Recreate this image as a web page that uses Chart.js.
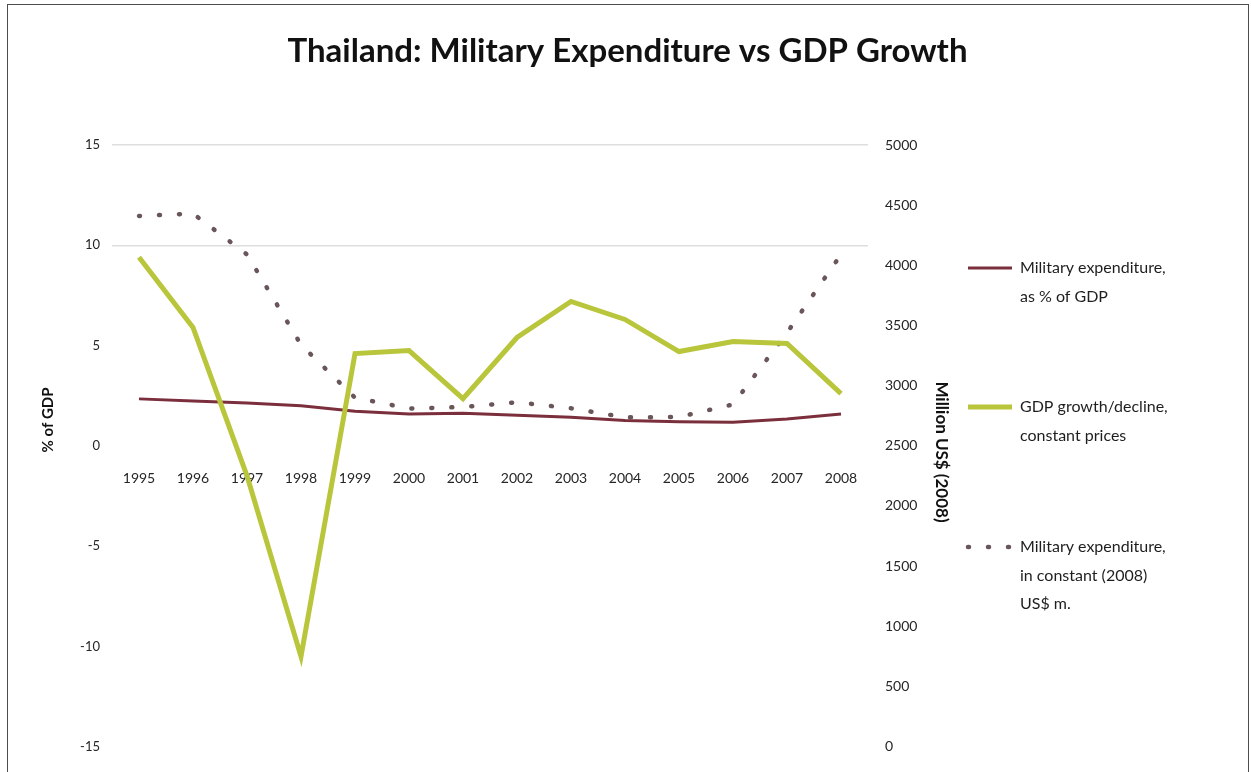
<!DOCTYPE html>
<html>
<head>
<meta charset="utf-8">
<title>Thailand: Military Expenditure vs GDP Growth</title>
<script src="https://cdn.jsdelivr.net/npm/chart.js@4.4.1/dist/chart.umd.min.js"></script>
<style>
  html, body { margin: 0; padding: 0; background: #fff; }
  #wrap { position: relative; width: 1251px; height: 772px; overflow: hidden; }
  #frame {
    position: absolute; left: 7px; top: 4px; width: 1240px; height: 820px;
    border: 1px solid #4d4d4d; pointer-events: none;
  }
</style>
</head>
<body>
<div id="wrap">
  <canvas id="chart" width="1251" height="772"></canvas>
  <div id="frame"></div>
</div>
<script>
const years = ["1995", "1996", "1997", "1998", "1999", "2000", "2001",
  "2002", "2003", "2004", "2005", "2006", "2007", "2008"];

// % of GDP (left axis)
const milexPctGdp = [2.34, 2.24, 2.14, 2.0, 1.72, 1.58, 1.62, 1.52, 1.42, 1.26, 1.2, 1.17, 1.34, 1.58];
const gdpGrowth = [9.4, 5.9, -1.5, -10.5, 4.6, 4.75, 2.35, 5.4, 7.2, 6.3, 4.7, 5.2, 5.1, 2.6];

// million US$ at constant 2008 prices (right axis)
const milexConstUsd = [4410, 4430, 4090, 3340, 2900, 2810, 2822, 2862, 2812, 2736, 2740, 2844, 3440, 4090];

const pctTicks = [-15, -10, -5, 0, 5, 10, 15];
const usdTicks = [0, 500, 1000, 1500, 2000, 2500, 3000, 3500, 4000, 4500, 5000];

const seriesLabels = [
  ["Military expenditure,", "as % of GDP"],
  ["GDP growth/decline,", "constant prices"],
  ["Military expenditure,", "in constant (2008)", "US$ m."],
];

const chartTitle = "Thailand: Military Expenditure vs GDP Growth";
const leftAxisTitle = "% of GDP";
const rightAxisTitle = "Million US$ (2008)";

const FONT = 'Lato, "Open Sans", sans-serif';
const TEXT = "#262626";

// legend block to the right of the plot, plus both axis titles
const sideText = {
  id: "sideText",
  afterDraw(chart) {
    const ctx = chart.ctx;
    const rows = [268, 407, 547];
    ctx.save();
    chart.data.datasets.forEach((ds, i) => {
      const y = rows[i];
      ctx.beginPath();
      ctx.strokeStyle = ds.borderColor;
      ctx.lineWidth = ds.borderWidth;
      ctx.lineCap = ds.borderCapStyle || "butt";
      ctx.setLineDash(ds.borderDash || []);
      ctx.moveTo(968, y);
      ctx.lineTo(1012, y);
      ctx.stroke();
      ctx.setLineDash([]);
      ctx.fillStyle = "#1e1e1e";
      ctx.font = "16px " + FONT;
      ctx.textAlign = "left";
      ctx.textBaseline = "middle";
      seriesLabels[i].forEach((line, k) => ctx.fillText(line, 1020, y + k * 28.5));
    });

    ctx.font = "bold 15px " + FONT;
    ctx.fillStyle = "#111";
    ctx.textAlign = "center";
    ctx.textBaseline = "middle";
    ctx.translate(48, 420);
    ctx.rotate(-Math.PI / 2);
    ctx.fillText(leftAxisTitle, 0, 0);
    ctx.restore();

    ctx.save();
    ctx.font = "bold 17px " + FONT;
    ctx.fillStyle = "#111";
    ctx.textAlign = "center";
    ctx.textBaseline = "middle";
    ctx.translate(941, 452);
    ctx.rotate(Math.PI / 2);
    ctx.fillText(rightAxisTitle, 0, 0);
    ctx.restore();
  },
};

new Chart(document.getElementById("chart"), {
  type: "line",
  data: {
    labels: years,
    datasets: [
      {
        label: seriesLabels[0].join(" "),
        data: milexPctGdp,
        yAxisID: "yPct",
        borderColor: "#7b2f3c",
        borderWidth: 3,
        pointRadius: 0,
        order: 1,
      },
      {
        label: seriesLabels[1].join(" "),
        data: gdpGrowth,
        yAxisID: "yPct",
        borderColor: "#b9c63b",
        borderWidth: 5,
        pointRadius: 0,
        order: 0,
      },
      {
        label: seriesLabels[2].join(" "),
        data: milexConstUsd,
        yAxisID: "yUsd",
        borderColor: "#6a5658",
        borderWidth: 4.5,
        borderDash: [1, 19],
        borderCapStyle: "round",
        pointRadius: 0,
        order: 2,
      },
    ],
  },
  options: {
    responsive: false,
    animation: false,
    events: [],
    layout: { padding: { top: 0, left: 20, right: 16, bottom: 19 } },
    plugins: {
      legend: { display: false },
      tooltip: { enabled: false },
      title: {
        display: true,
        text: chartTitle,
        color: "#111",
        font: { family: FONT, size: 33, weight: "bold" },
        padding: { top: 32, bottom: 73.4 },
      },
    },
    scales: {
      x: {
        position: { yPct: 0 },
        offset: true,
        grid: { display: false },
        border: { display: false },
        ticks: {
          color: TEXT,
          font: { family: FONT, size: 14 },
          padding: 16,
          maxRotation: 0,
          autoSkip: false,
        },
      },
      yPct: {
        position: "left",
        min: -15,
        max: 15,
        afterBuildTicks: (s) => { s.ticks = pctTicks.map((v) => ({ value: v })); },
        afterFit: (s) => { s.width = 92; },
        grid: {
          drawTicks: false,
          lineWidth: 1.5,
          color: (c) => (c.tick && c.tick.value >= 10 ? "#dedede" : "rgba(0,0,0,0)"),
        },
        border: { display: false },
        ticks: { color: TEXT, font: { family: FONT, size: 13 }, padding: 12 },
      },
      yUsd: {
        position: "right",
        min: 0,
        max: 5000,
        afterBuildTicks: (s) => { s.ticks = usdTicks.map((v) => ({ value: v })); },
        // wide box: the legend sits in the space past the tick labels
        afterFit: (s) => { s.width = 367; },
        grid: { display: false, drawTicks: false },
        border: { display: false },
        ticks: {
          color: TEXT,
          font: { family: FONT, size: 14 },
          padding: 17,
          callback: (v) => String(v),
        },
      },
    },
  },
  plugins: [sideText],
});
</script>
</body>
</html>
